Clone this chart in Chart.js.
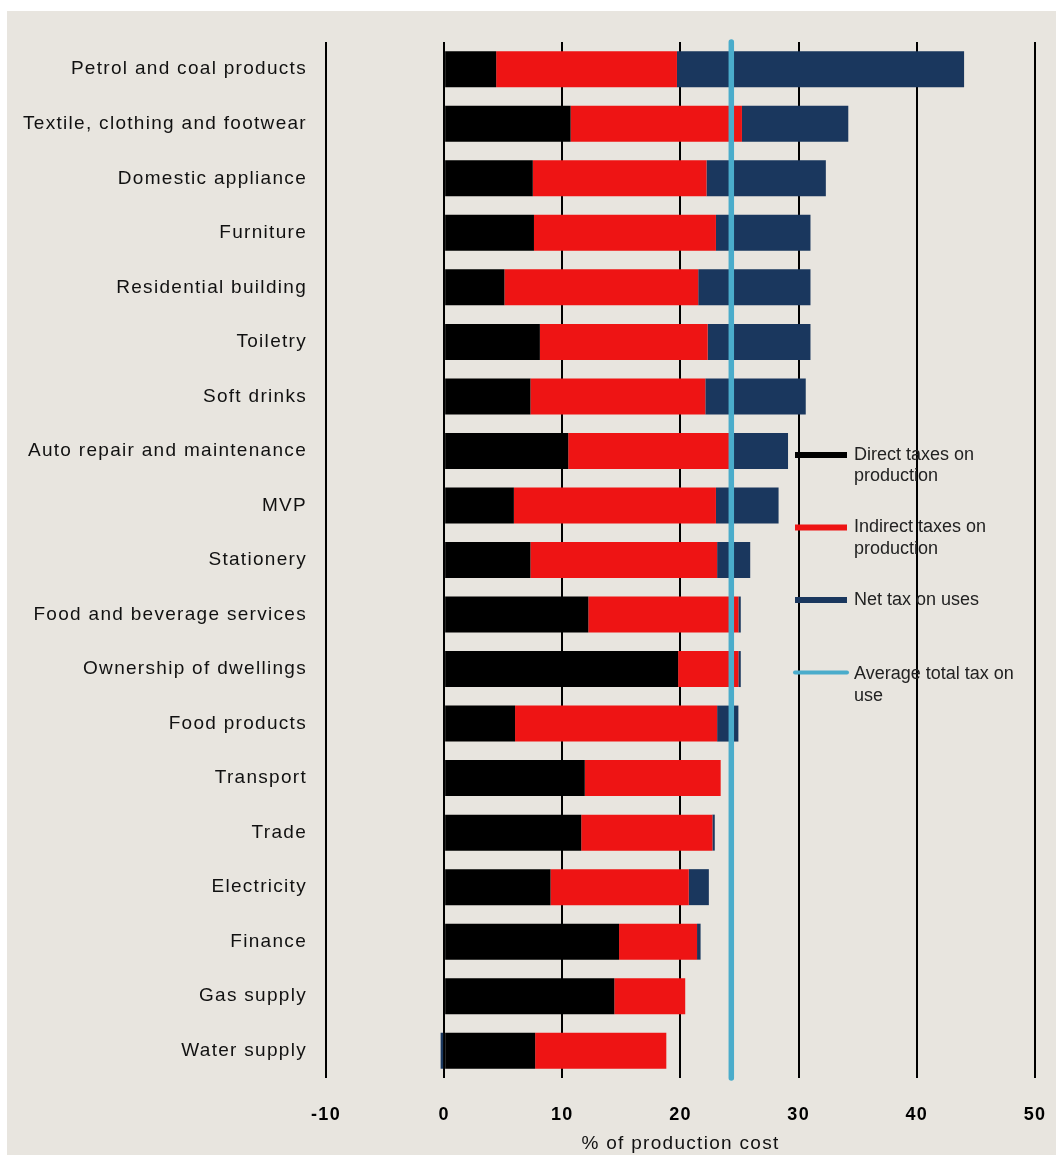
<!DOCTYPE html>
<html>
<head>
<meta charset="utf-8">
<script src="https://cdn.jsdelivr.net/npm/chart.js@4.4.1/dist/chart.umd.min.js"></script>
<style>
    body { margin: 0; background: #ffffff; }
    #wrap {
        position: absolute;
        left: 7px;
        top: 11px;
        width: 1049px;
        height: 1144px;
        background: #e8e5df;
    }
</style>
</head>
<body>
<div id="wrap"><canvas id="TaxChart"></canvas></div>
<script>
var categories = [
    "Petrol and coal products",
    "Textile, clothing and footwear",
    "Domestic appliance",
    "Furniture",
    "Residential building",
    "Toiletry",
    "Soft drinks",
    "Auto repair and maintenance",
    "MVP",
    "Stationery",
    "Food and beverage services",
    "Ownership of dwellings",
    "Food products",
    "Transport",
    "Trade",
    "Electricity",
    "Finance",
    "Gas supply",
    "Water supply"
];

var directTaxes   = [4.4, 10.7, 7.5, 7.6, 5.1, 8.1, 7.3, 10.5, 5.9, 7.3, 12.2, 19.8, 6.0, 11.9, 11.6, 9.0, 14.8, 14.4, 7.7];
var indirectTaxes = [15.3, 14.5, 14.7, 15.4, 16.4, 14.2, 14.8, 14.0, 17.1, 15.8, 12.7, 5.1, 17.1, 11.5, 11.1, 11.7, 6.6, 6.0, 11.1];
var netTaxOnUses  = [24.3, 9.0, 10.1, 8.0, 9.5, 8.7, 8.5, 4.6, 5.3, 2.8, 0.2, 0.2, 1.8, 0, 0.2, 1.7, 0.3, 0, -0.3];

var averageTotalTax = 24.3;

var xTicks = [-10, 0, 10, 20, 30, 40, 50];

var legendItems = [
    {lines: ["Direct taxes on", "production"], color: "#000000", width: 6, cap: "butt"},
    {lines: ["Indirect taxes on", "production"], color: "#ee1414", width: 6, cap: "butt"},
    {lines: ["Net tax on uses"], color: "#1a375e", width: 6, cap: "butt"},
    {lines: ["Average total tax on", "use"], color: "#4aaccb", width: 4, cap: "round"}
];

var fontFamily = "'Liberation Sans', Arial, sans-serif";

var plugins = [{
    id: 'spacing',
    beforeDraw: chart => {
        chart.ctx.letterSpacing = '1.3px';
    },
    beforeDatasetsDraw: chart => {
        chart.ctx.letterSpacing = '0px';
    }
}, {
    id: 'averageLine',
    afterDatasetsDraw: chart => {
        let ctx = chart.ctx;
        let area = chart.chartArea;
        let x = chart.scales.x.getPixelForValue(averageTotalTax);
        ctx.save();
        ctx.beginPath();
        ctx.moveTo(x, area.top);
        ctx.lineTo(x, area.bottom);
        ctx.lineWidth = 5.5;
        ctx.lineCap = 'round';
        ctx.strokeStyle = '#4aaccb';
        ctx.stroke();
        ctx.restore();
    }
}, {
    id: 'sideLegend',
    afterDraw: chart => {
        let ctx = chart.ctx;
        let area = chart.chartArea;
        let left = area.left + 469;
        let top = area.top + 413;
        ctx.save();
        ctx.font = "18px " + fontFamily;
        ctx.fillStyle = '#222222';
        ctx.textBaseline = 'middle';
        ctx.letterSpacing = '0px';
        legendItems.forEach((item, i) => {
            let y = top + i * 72.5;
            ctx.beginPath();
            ctx.moveTo(left, y);
            ctx.lineTo(left + 52, y);
            ctx.lineWidth = item.width;
            ctx.lineCap = item.cap;
            ctx.strokeStyle = item.color;
            ctx.stroke();
            item.lines.forEach((line, j) => {
                ctx.fillText(line, left + 59, y + (item.cap === 'round' ? 2 : 0) + j * 21.5);
            });
        });
        ctx.restore();
    }
}];

var options = {
    responsive: true,
    maintainAspectRatio: false,
    indexAxis: 'y',
    animation: false,
    layout: {
        padding: {top: 31, right: 0, left: 0, bottom: 0}
    },
    plugins: {
        legend: {display: false},
        tooltip: {enabled: false}
    },
    datasets: {
        bar: {
            categoryPercentage: 1.0,
            barPercentage: 0.66,
            borderWidth: 0
        }
    },
    scales: {
        x: {
            stacked: true,
            min: -10,
            max: 50,
            afterBuildTicks: scale => {
                scale.ticks = xTicks.map(v => ({value: v}));
            },
            afterFit: scale => {
                scale.height = 77;
            },
            grid: {
                display: true,
                drawTicks: false,
                color: '#000000',
                lineWidth: 2
            },
            border: {display: false},
            ticks: {
                padding: 11,
                color: '#000000',
                font: {family: fontFamily, size: 18, weight: 'bold', lineHeight: '52px'}
            },
            title: {
                display: true,
                text: '% of production cost',
                color: '#111111',
                padding: {top: 0, bottom: 0},
                font: {family: fontFamily, size: 19}
            }
        },
        y: {
            stacked: true,
            afterFit: scale => {
                scale.width = 319;
            },
            grid: {display: false, drawTicks: false},
            border: {display: false},
            ticks: {
                padding: 19,
                color: '#111111',
                autoSkip: false,
                font: {family: fontFamily, size: 19}
            }
        }
    }
};

new Chart(
    document.getElementById('TaxChart'),
    {
        type: 'bar',
        options: options,
        plugins: plugins,
        data: {
            labels: categories,
            datasets: [{
                label: 'Direct taxes on production',
                data: directTaxes,
                backgroundColor: '#000000'
            }, {
                label: 'Indirect taxes on production',
                data: indirectTaxes,
                backgroundColor: '#ee1414'
            }, {
                label: 'Net tax on uses',
                data: netTaxOnUses,
                backgroundColor: '#1a375e'
            }]
        }
    }
);
</script>
</body>
</html>
